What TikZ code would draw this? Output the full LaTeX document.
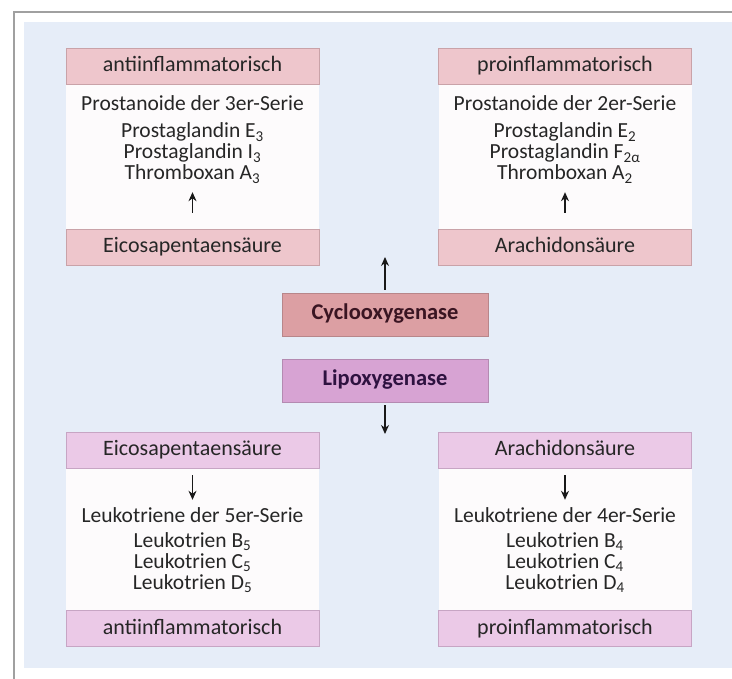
\documentclass[tikz,border=0pt]{standalone}
\usepackage{fontspec}
\setmainfont{Carlito}
\usetikzlibrary{arrows.meta}
\definecolor{bg}{HTML}{E6EDF8}
\definecolor{frame}{HTML}{A0A0A0}
\definecolor{rose}{HTML}{EEC6CC}
\definecolor{roseb}{HTML}{C9A2A8}
\definecolor{cyc}{HTML}{DC9FA3}
\definecolor{cycb}{HTML}{B8868A}
\definecolor{lipo}{HTML}{D7A3D3}
\definecolor{lipob}{HTML}{B48AB1}
\definecolor{lilac}{HTML}{EBC9E7}
\definecolor{lilacb}{HTML}{C7A5C4}
\definecolor{body}{HTML}{FDFBFC}
\definecolor{txt}{HTML}{262626}
\definecolor{cyctxt}{HTML}{3A1522}
\definecolor{lipotxt}{HTML}{2E1240}
\begin{document}
\begin{tikzpicture}[x=1pt,y=-1pt,
  hdr/.style={draw, line width=0.6pt, minimum width=253pt, minimum height=36pt, inner sep=0pt, text height=15pt, text depth=4pt, font=\fontsize{22}{24}\selectfont, text=txt},
  hrose/.style={hdr, fill=rose, draw=roseb},
  hlilac/.style={hdr, fill=lilac, draw=lilacb},
  bodybox/.style={fill=body, minimum width=253pt, inner sep=0pt},
  line/.style={inner sep=0pt, text height=14pt, text depth=4pt, font=\fontsize{21.5}{24}\selectfont, text=txt},
  enz/.style={draw, line width=0.6pt, minimum width=206pt, minimum height=43pt, inner sep=0pt, text height=15pt, text depth=5pt, font=\bfseries\fontsize{22.5}{24}\selectfont},
  arr/.style={-{Stealth[length=9pt,width=8pt]}, line width=1.3pt, black!90}
]
\useasboundingbox (0,0) rectangle (732,679);
\fill[white] (0,0) rectangle (732,679);
\draw[frame, line width=1.2pt] (14,679) -- (14,12) -- (732,12);
\fill[bg] (24,22) rectangle (732,668);

% top left
\node[bodybox, minimum height=145pt] (tlbody) at (192.5,156.5) {};
\node[hrose] (tlh) at (192.5,66) {antiinflammatorisch};
\node[hrose] (tlf) at (192.5,247) {Eicosapentaensäure};
\node[line] (tl1) at (192.5,106) {Prostanoide der 3er-Serie};
\node[line] (tl2) at (192.5,133) {Prostaglandin E\textsubscript{3}};
\node[line] (tl3) at (192.5,154) {Prostaglandin I\textsubscript{3}};
\node[line] (tl4) at (192.5,175) {Thromboxan A\textsubscript{3}};
\draw[arr] ([yshift=16pt]tlf.north) -- ([yshift=-8pt]tl4.south);

% top right
\node[bodybox, minimum height=145pt] (trbody) at (565,156.5) {};
\node[hrose] (trh) at (565,66) {proinflammatorisch};
\node[hrose] (trf) at (565,247) {Arachidonsäure};
\node[line] (tr1) at (565,106) {Prostanoide der 2er-Serie};
\node[line] (tr2) at (565,133) {Prostaglandin E\textsubscript{2}};
\node[line] (tr3) at (565,154) {Prostaglandin F\textsubscript{2α}};
\node[line] (tr4) at (565,175) {Thromboxan A\textsubscript{2}};
\draw[arr] ([yshift=16pt]trf.north) -- ([yshift=-8pt]tr4.south);

% enzymes
\node[enz, fill=cyc, draw=cycb, text=cyctxt] (cox) at (385,314.5) {Cyclooxygenase};
\node[enz, fill=lipo, draw=lipob, text=lipotxt] (lox) at (385,380.5) {Lipoxygenase};
\coordinate (upend) at (385,257);
\coordinate (downend) at (385,434);
\draw[arr] ([yshift=3pt]cox.north) -- (upend);
\draw[arr] ([yshift=-3pt]lox.south) -- (downend);

% bottom left
\node[bodybox, minimum height=142pt] (blbody) at (192.5,539) {};
\node[hlilac] (blh) at (192.5,450) {Eicosapentaensäure};
\node[hlilac] (blf) at (192.5,628.5) {antiinflammatorisch};
\node[line] (bl1) at (192.5,517) {Leukotriene der 5er-Serie};
\node[line] (bl2) at (192.5,542) {Leukotrien B\textsubscript{5}};
\node[line] (bl3) at (192.5,563) {Leukotrien C\textsubscript{5}};
\node[line] (bl4) at (192.5,584) {Leukotrien D\textsubscript{5}};
\draw[arr] ([yshift=-7pt]blh.south) -- ([yshift=8pt]bl1.north);

% bottom right
\node[bodybox, minimum height=142pt] (brbody) at (565,539) {};
\node[hlilac] (brh) at (565,450) {Arachidonsäure};
\node[hlilac] (brf) at (565,628.5) {proinflammatorisch};
\node[line] (br1) at (565,517) {Leukotriene der 4er-Serie};
\node[line] (br2) at (565,542) {Leukotrien B\textsubscript{4}};
\node[line] (br3) at (565,563) {Leukotrien C\textsubscript{4}};
\node[line] (br4) at (565,584) {Leukotrien D\textsubscript{4}};
\draw[arr] ([yshift=-7pt]brh.south) -- ([yshift=8pt]br1.north);
\end{tikzpicture}
\end{document}
